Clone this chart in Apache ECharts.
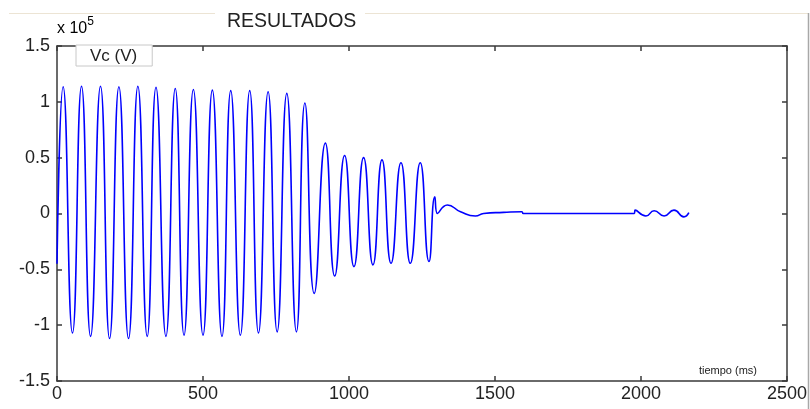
<!DOCTYPE html>
<html>
<head>
<meta charset="utf-8">
<script src="https://cdn.jsdelivr.net/npm/echarts@6/dist/echarts.min.js"></script>
<style>
html,body{margin:0;padding:0;background:#fff;}
#chart{width:810px;height:409px;}
</style>
</head>
<body>
<div id="chart"></div>
<script>
// Time (ms) of extrema / read points
const tiempo = [0, 21, 53, 84, 115, 149, 180, 212, 245, 277, 309, 339, 373, 405, 435, 467, 500, 532, 565, 595, 628, 660, 690, 723, 754, 787, 820, 849, 881, 919, 951, 985, 1017, 1050, 1082, 1113, 1144, 1178, 1210, 1244, 1274, 1294, 1303, 1337, 1382, 1433, 1461, 1529, 1592, 1597, 1977, 1980, 2017, 2045, 2079, 2113, 2147, 2164];
// Vc values (x 10^5 V)
const vc = [-0.45, 1.135, -1.07, 1.14, -1.10, 1.14, -1.12, 1.135, -1.12, 1.14, -1.10, 1.13, -1.10, 1.12, -1.09, 1.11, -1.09, 1.105, -1.10, 1.10, -1.09, 1.10, -1.07, 1.09, -1.06, 1.076, -1.06, 0.99, -0.715, 0.63, -0.56, 0.52, -0.476, 0.50, -0.46, 0.48, -0.446, 0.455, -0.446, 0.455, -0.43, 0.15, 0.0, 0.076, 0.016, -0.022, 0.0, 0.01, 0.016, 0.0, 0.0, 0.03, -0.022, 0.025, -0.022, 0.03, -0.03, 0.007];
const xTicks = {min: 0, max: 2500, interval: 500};
const yTicks = {min: -1.5, max: 1.5, interval: 0.5};
const seriesName = 'Vc (V)';
const titleText = 'RESULTADOS';
const xName = 'tiempo (ms)';

const data = tiempo.map((t, i) => [t, vc[i]]);
const FONT = 'Liberation Sans, Arial, sans-serif';
const axisLine = {show: true, onZero: false, lineStyle: {color: '#3a3a3a', width: 1.5}};
const tick = {show: true, inside: true, length: 5, lineStyle: {color: '#3a3a3a', width: 1.5}};
const plain = v => String(v);

const chart = echarts.init(document.getElementById('chart'), null, {renderer: 'canvas'});
chart.setOption({
  animation: false,
  backgroundColor: '#fff',
  title: {
    text: titleText, left: 227, top: 12, padding: 0,
    textStyle: {fontFamily: FONT, fontSize: 19.5, fontWeight: 'normal', color: '#222'}
  },
  legend: {
    left: 76, top: 45, orient: 'vertical', z: 10,
    data: [{name: seriesName, icon: 'none'}],
    itemWidth: 0, itemHeight: 14,
    padding: [3, 15, 1, 9],
    backgroundColor: '#fff', borderColor: '#c8c8c8', borderWidth: 1,
    textStyle: {fontFamily: FONT, fontSize: 17, color: '#222', lineHeight: 17}
  },
  grid: {left: 57, right: 18, top: 46, bottom: 28, containLabel: false},
  xAxis: [{
    type: 'value', position: 'bottom', min: xTicks.min, max: xTicks.max, interval: xTicks.interval,
    axisLine: axisLine, axisTick: tick, splitLine: {show: false},
    axisLabel: {fontFamily: FONT, fontSize: 18, color: '#222', margin: 4, formatter: plain},
    name: xName, nameLocation: 'end', nameGap: -30,
    nameTextStyle: {fontFamily: FONT, fontSize: 11, color: '#222', align: 'right', verticalAlign: 'bottom', padding: [0, 0, 5, 0]}
  }, {
    type: 'value', position: 'top', min: xTicks.min, max: xTicks.max, interval: xTicks.interval,
    axisLine: axisLine, axisTick: tick, splitLine: {show: false}, axisLabel: {show: false}
  }],
  yAxis: [{
    type: 'value', position: 'left', min: yTicks.min, max: yTicks.max, interval: yTicks.interval,
    axisLine: axisLine, axisTick: tick, splitLine: {show: false},
    axisLabel: {fontFamily: FONT, fontSize: 18, color: '#222', margin: 7, formatter: plain}
  }, {
    type: 'value', position: 'right', min: yTicks.min, max: yTicks.max, interval: yTicks.interval,
    axisLine: axisLine, axisTick: tick, splitLine: {show: false}, axisLabel: {show: false}
  }],
  graphic: [
    {type: 'line', shape: {x1: 9, y1: 13.5, x2: 215, y2: 13.5}, style: {stroke: '#ece4d4', lineWidth: 1}, silent: true},
    {type: 'line', shape: {x1: 365, y1: 13.5, x2: 808, y2: 13.5}, style: {stroke: '#ece4d4', lineWidth: 1}, silent: true},
    {type: 'line', shape: {x1: 808.5, y1: 13, x2: 808.5, y2: 409}, style: {stroke: '#a8a8a8', lineWidth: 1.5}, silent: true},
    {type: 'text', left: 57, top: 16, silent: true,
      style: {text: '{a|x 10}{b|5}', rich: {
        a: {fontFamily: FONT, fontSize: 16, color: '#222', verticalAlign: 'bottom', lineHeight: 21},
        b: {fontFamily: FONT, fontSize: 12, color: '#222', verticalAlign: 'top', lineHeight: 21, padding: [0, 0, 9, 0]}
      }}}
  ],
  series: [{
    name: seriesName, type: 'line', data: data, xAxisIndex: 0, yAxisIndex: 0,
    showSymbol: false, smooth: 0.55,
    lineStyle: {color: '#0000ff', width: 1.6}, itemStyle: {color: '#0000ff'}
  }]
});
</script>
</body>
</html>
